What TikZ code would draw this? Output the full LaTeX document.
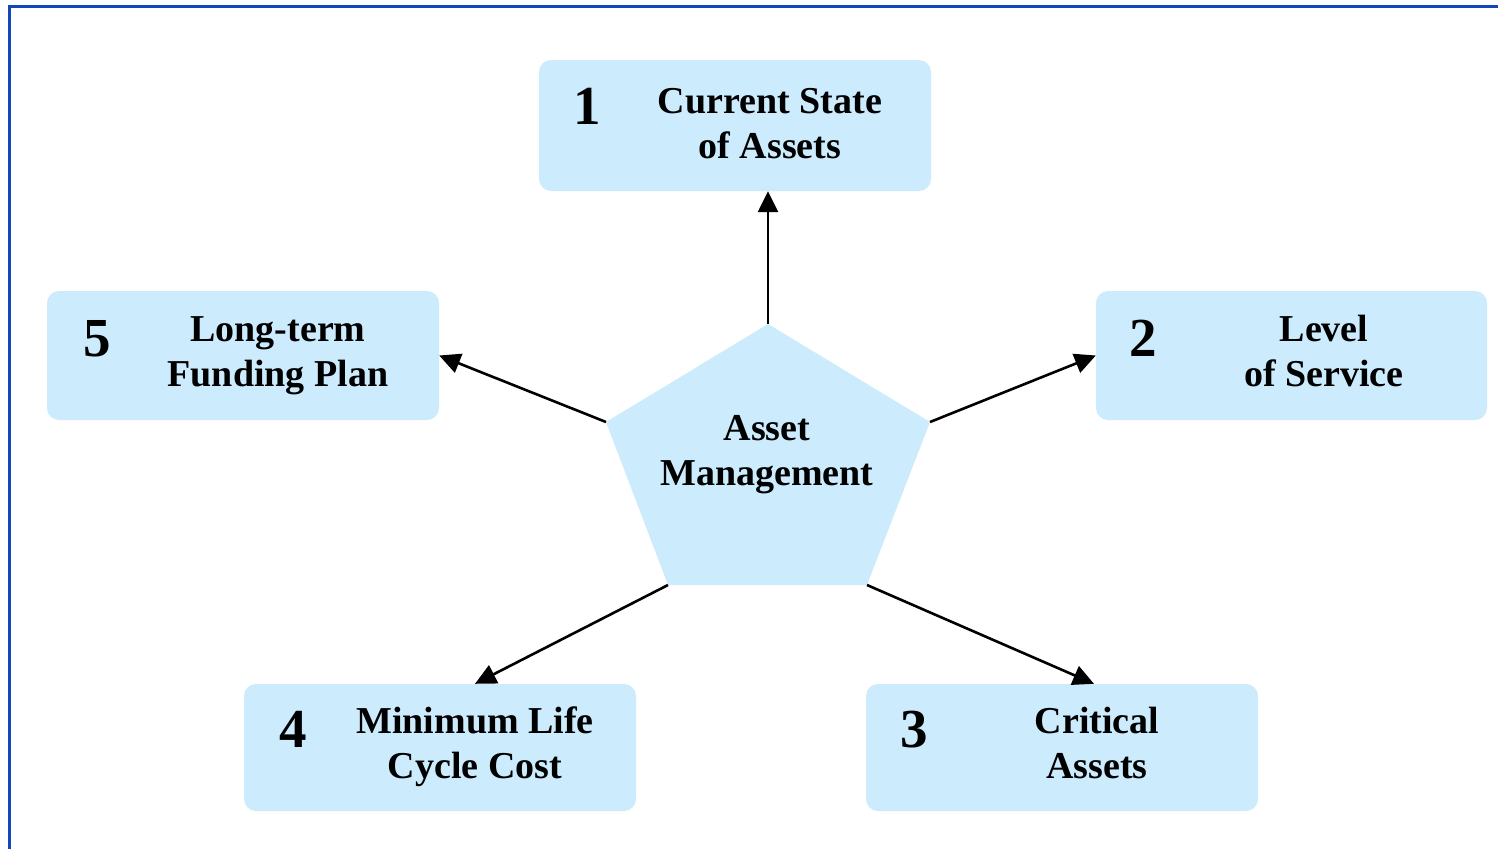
\documentclass[tikz,border=0pt]{standalone}
\usepackage{fontspec}
\setmainfont{Liberation Serif}
\usetikzlibrary{arrows.meta}
\definecolor{boxblue}{RGB}{204,235,253}
\definecolor{frameblue}{RGB}{16,72,184}
\tikzset{
  box/.style={rectangle, rounded corners=12pt, fill=boxblue, draw=none, inner sep=0pt},
  lbl/.style={align=center, inner sep=0pt, font=\fontsize{38}{45}\selectfont\bfseries,
    execute at begin node=\strut, execute at end node=\strut},
  num/.style={anchor=base, inner sep=0pt, font=\fontsize{55}{60}\selectfont\bfseries},
  arr/.style={line width=2.6pt, -{Triangle[length=21pt,width=20pt]}},
}
\begin{document}
\begin{tikzpicture}[x=1pt,y=-1pt]
\useasboundingbox (0,0) rectangle (1498,849);
% frame
\draw[frameblue, line width=2.7pt] (9.7,849) -- (9.7,6.2) -- (1498,6.2);
% boxes
\node[box, minimum width=392pt, minimum height=131pt] (b1) at (735,125.5) {};
\node[box, minimum width=391pt, minimum height=129pt] (b2) at (1291.5,355.5) {};
\node[box, minimum width=392pt, minimum height=127pt] (b3) at (1062,747.5) {};
\node[box, minimum width=392pt, minimum height=127pt] (b4) at (440,747.5) {};
\node[box, minimum width=392pt, minimum height=129pt] (b5) at (243,355.5) {};
% pentagon
\coordinate (p1) at (768,324);
\coordinate (p2) at (930,422);
\coordinate (p3) at (867,585);
\coordinate (p4) at (668,585);
\coordinate (p5) at (606,422);
\fill[boxblue] (p1) -- (p2) -- (p3) -- (p4) -- (p5) -- cycle;
\node[lbl] (am) at (767,457) {Asset\\Management};
% numbers
\node[num] (n1) at (587,124) {1};
\node[num] (n2) at (1143,356) {2};
\node[num] (n3) at (914,747) {3};
\node[num] (n4) at (293,747) {4};
\node[num] (n5) at (97,356) {5};
% labels
\node[lbl] (t1) at (770,130) {Current State\\of Assets};
\node[lbl] (t2) at (1324,358) {Level\\of Service};
\node[lbl] (t3) at (1097,749.5) {Critical\\Assets};
\node[lbl] (t4) at (475,749.5) {Minimum Life\\Cycle Cost};
\node[lbl] (t5) at (278,358) {Long-term\\Funding Plan};
% arrows
\draw[arr] (p1) -- (p1 |- b1.south);
\draw[arr] (p2) -- (b2.west);
\draw[arr] (p5) -- (b5.east);
\draw[arr] (p4) -- ([xshift=35pt]b4.north);
\draw[arr] (p3) -- ([xshift=32pt]b3.north);
\end{tikzpicture}
\end{document}
